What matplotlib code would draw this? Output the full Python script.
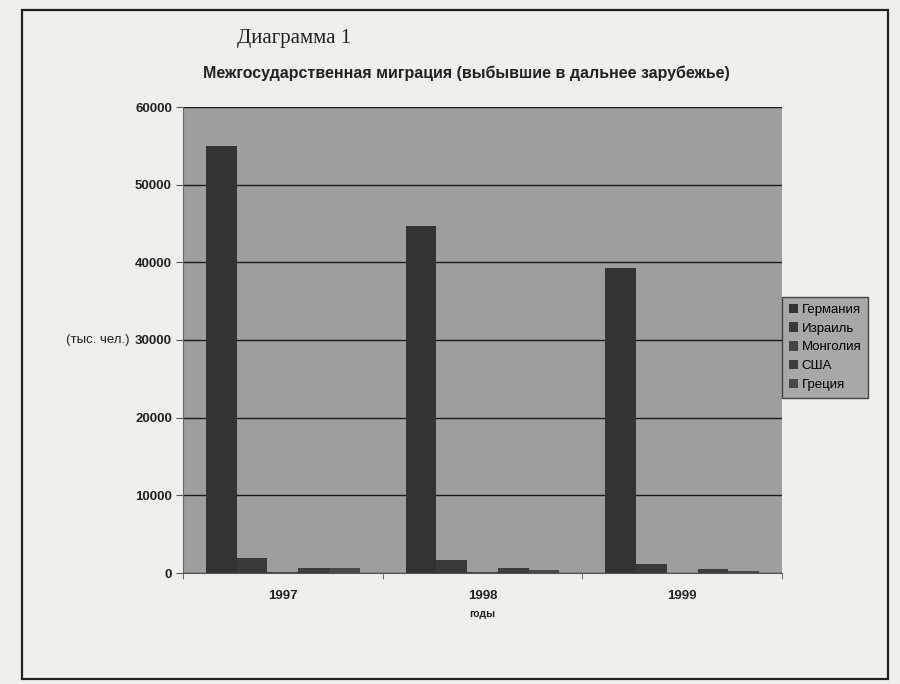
import matplotlib
matplotlib.use("Agg")
import matplotlib.pyplot as plt
import numpy as np
from matplotlib.patches import Rectangle

years = ["1997", "1998", "1999"]
series = ["Германия", "Израиль", "Монголия", "США", "Греция"]
germany = [55000, 44700, 39300]
israel = [1900, 1700, 1100]
mongolia = [100, 80, 60]
usa = [700, 700, 500]
greece = [600, 400, 200]
values = [germany, israel, mongolia, usa, greece]
yticks = [0, 10000, 20000, 30000, 40000, 50000, 60000]

bar_colors = ["#333333", "#3a3a3a", "#444444", "#3d3d3d", "#484848"]

fig = plt.figure(figsize=(9, 6.84), dpi=100)
fig.patch.set_facecolor("#efefec")

# page frame
fig.add_artist(Rectangle((22/900, 1-679/684), 866/900, 669/684, transform=fig.transFigure,
                         fill=False, edgecolor="#222222", linewidth=1.6))

ax = fig.add_axes([183/900, 1-573/684, 599/900, 466/684])
ax.set_facecolor("#9e9e9e")

w = 1/6.5
x = np.arange(len(years))
for i, (name, vals) in enumerate(zip(series, values)):
    ax.bar(x - 2.5*w + (i+0.5)*w, vals, width=w, color=bar_colors[i], label=name, zorder=3)

ax.set_xlim(-0.5, len(years)-0.5)
ax.set_ylim(0, 60000)
ax.set_yticks(yticks)
ax.set_yticklabels([str(t) for t in yticks], fontsize=9.5, fontweight="bold", family="Liberation Sans", color="#222222")
ax.set_xticks(x)
ax.set_xticklabels(years, fontsize=9.5, fontweight="bold", family="Liberation Sans", color="#222222")
ax.set_xticks(np.arange(-0.5, len(years)), minor=True)
ax.tick_params(axis="x", which="major", length=0, pad=12)
ax.tick_params(axis="x", which="minor", length=4, color="#555555")
ax.tick_params(axis="y", length=5, color="#555555", pad=3)
ax.yaxis.grid(True, color="#1a1a1a", linewidth=1.0, zorder=1)
ax.set_axisbelow(True)
for s in ["top", "right"]:
    ax.spines[s].set_visible(False)
ax.spines["left"].set_color("#666666")
ax.spines["bottom"].set_color("#555555")

ax.text(-0.09, 30000, "(тыс. чел.)", transform=ax.get_yaxis_transform(), ha="right", va="center",
        fontsize=9.5, family="Liberation Sans", color="#222222")
ax.set_xlabel("годы", fontsize=7.5, fontweight="bold", family="Liberation Sans", labelpad=5, color="#222222")

fig.text(237/900, 1-38/684, "Диаграмма 1", fontsize=15, family="Liberation Serif", color="#222222", va="center")
fig.text(466/900, 1-73/684, "Межгосударственная миграция (выбывшие в дальнее зарубежье)",
         fontsize=11.5, fontweight="bold", family="Liberation Sans", color="#222222", ha="center", va="center")

leg = fig.legend(loc="upper left", bbox_to_anchor=(782/900, 1-297/684), frameon=True,
                 prop={"family": "Liberation Sans", "size": 9.5}, handlelength=0.7, handleheight=0.7,
                 handletextpad=0.3, labelspacing=0.5, borderpad=0.5, borderaxespad=0)
leg.get_frame().set_facecolor("#a8a8a8")
leg.get_frame().set_edgecolor("#444444")
leg.get_frame().set_alpha(1)
leg.get_frame().set_boxstyle("square", pad=0)

fig.savefig("out.png", dpi=100, facecolor=fig.get_facecolor())
